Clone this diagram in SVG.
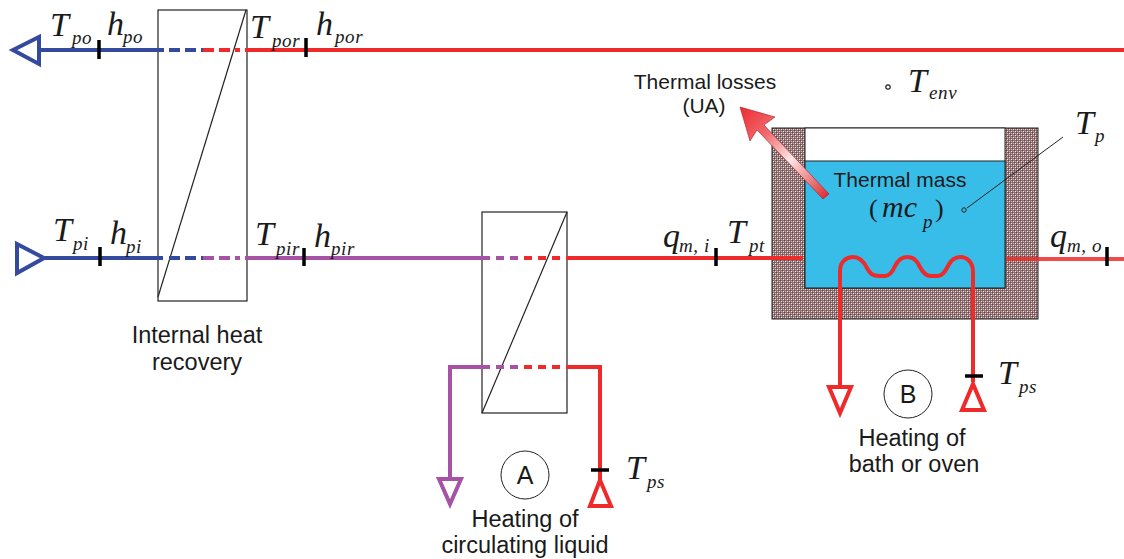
<svg xmlns="http://www.w3.org/2000/svg" width="1124" height="559" viewBox="0 0 1124 559">
<style>
.v{font-family:"Liberation Serif",serif;font-style:italic;fill:#1a1a1a}
.m{font-size:34px}.s{font-size:19px;letter-spacing:.6px}
.l{font-family:"Liberation Sans",Arial,sans-serif;font-size:23.5px;fill:#1a1a1a;text-anchor:middle}
.l2{font-size:21px}
.hx{fill:none;stroke:#222;stroke-width:1.2}
.ln{fill:none;stroke-width:4}
.b{stroke:#344a9e}.r{stroke:#ee2a2a}.p{stroke:#a653a6}
.d{stroke-dasharray:11 5}
.e{stroke-dasharray:8 6}
.t{stroke:#000;stroke-width:3.5;fill:none}
.tri{fill:#fff;stroke-width:4;stroke-linejoin:miter}
</style>
<defs>
<pattern id="hatch" width="4" height="4" patternUnits="userSpaceOnUse">
<rect width="4" height="4" fill="#8f7070"/>
<rect x="0" y="0" width="1" height="1" fill="#5f3f3f"/>
<rect x="2" y="2" width="1" height="1" fill="#5f3f3f"/>
<rect x="1" y="1" width="1" height="1" fill="#f2e8e8"/>
<rect x="3" y="3" width="1" height="1" fill="#f2e8e8"/>
<rect x="3" y="1" width="1" height="1" fill="#c8b4b4"/>
<rect x="1" y="3" width="1" height="1" fill="#c8b4b4"/>
</pattern>
<linearGradient id="loss" gradientUnits="userSpaceOnUse" x1="740" y1="107" x2="829" y2="195">
<stop offset="0" stop-color="#ee2a30"/>
<stop offset=".3" stop-color="#f06a6e"/>
<stop offset=".58" stop-color="#fbe8e8"/>
<stop offset="1" stop-color="#e02a30"/>
</linearGradient>
</defs>
<g id="bath">
<rect x="772" y="128" width="266" height="191" fill="url(#hatch)" stroke="#222" stroke-width="1"/>
<rect x="805" y="128" width="200" height="160" fill="#fff" stroke="#222" stroke-width="1"/>
<rect x="805" y="161" width="200" height="127" fill="#38bde8" stroke="#222" stroke-width="1"/>
</g>
<g id="hx1"><rect class="hx" x="158" y="10" width="89" height="291"/><path class="hx" d="M158 297L246 10"/></g>
<g id="hx2"><rect class="hx" x="482" y="212" width="85" height="201"/><path class="hx" d="M482 413L567 212"/></g>
<g id="connectors">
<path class="ln b" d="M39 50H164"/><path class="ln b d" d="M169 50H203"/>
<path class="ln r d" d="M203 50H240"/><path class="ln r" d="M245 50H1124"/>
<path class="ln b" d="M45 258H163"/><path class="ln b d" d="M169 258H203"/>
<path class="ln p d" d="M203 258H240"/><path class="ln p" d="M245 258H490"/>
<path class="ln p e" d="M496 258H520"/><path class="ln r e" d="M524 258H560"/><path class="ln r" d="M566 258H803"/>
<path class="ln r" style="stroke-opacity:.85" d="M1006 259H1124"/>
<path class="ln p" d="M450 480V367H490"/><path class="ln p e" d="M496 367H518"/>
<path class="ln r e" d="M524 367H560"/><path class="ln r" d="M566 367H600V480"/>
<path class="ln r" d="M840 388V271C840 261 847 257 853 257C860 257 864 262 867 268C870 274 873 276 879 276H885C889 276 892 273 895 266C898 260 901 257 907 257C914 257 917 261 920 267C923 273 926 276 931 276H938C942 276 945 272 948 266C951 260 954 257 960 257C968 257 973 263 973 272V382"/>
<polygon class="tri b" points="13,50 39,37 39,64"/>
<polygon class="tri b" points="17,244 17,273 44,258"/>
<polygon class="tri p" points="439,479 461,479 450,504"/>
<polygon class="tri r" points="590,506 611,506 600,480"/>
<polygon class="tri r" points="829,387 851,387 840,413"/>
<polygon class="tri r" points="962,410 984,410 973,384"/>
<path class="t" d="M99 40V59M306 38V57M100 247V266M304 248V266M716 248V266M1107 247V266M591 470H609M965 376H983"/>
</g>
<g id="losses"><polygon points="740,107 775,117 764,125 829,194 823,199 757,130 750,141" fill="url(#loss)" stroke="#a02028" stroke-width=".6"/></g>
<g id="points">
<circle cx="888" cy="87" r="2.2" fill="#fff" stroke="#222" stroke-width="1.2"/>
<path d="M1063 137L967 208" stroke="#222" stroke-width="1" fill="none"/>
<circle cx="964" cy="210" r="2.2" fill="#38bde8" stroke="#222" stroke-width="1"/>
<circle cx="525" cy="475" r="24" fill="#fff" stroke="#222" stroke-width="1"/>
<circle cx="908" cy="394" r="24" fill="#fff" stroke="#222" stroke-width="1"/>
</g>
<g id="labels">
<text class="v m" x="50" y="36">T</text><text class="v s" x="72" y="44">po</text>
<text class="v m" x="107" y="35">h</text><text class="v s" x="123" y="43">po</text>
<text class="v m" x="250" y="38">T</text><text class="v s" x="272" y="47">por</text>
<text class="v m" x="316" y="35">h</text><text class="v s" x="335" y="43">por</text>
<text class="v m" x="53" y="241">T</text><text class="v s" x="73" y="250">pi</text>
<text class="v m" x="110" y="244">h</text><text class="v s" x="126" y="253">pi</text>
<text class="v m" x="255" y="245">T</text><text class="v s" x="276" y="255">pir</text>
<text class="v m" x="314" y="247">h</text><text class="v s" x="331" y="255">pir</text>
<text class="v m" x="663" y="247">q</text><text class="v s" x="679" y="252">m, i</text>
<text class="v m" x="727" y="243">T</text><text class="v s" x="749" y="252">pt</text>
<text class="v m" x="1050" y="247">q</text><text class="v s" x="1067" y="252">m, o</text>
<text class="v m" x="908" y="92">T</text><text class="v s" x="929" y="99">env</text>
<text class="v m" x="1075" y="134">T</text><text class="v s" x="1095" y="142">p</text>
<text class="v" x="869" y="217" style="font-style:normal;font-size:26px">(</text>
<text class="v" x="882" y="217" style="font-size:30px">mc</text><text class="v s" x="923" y="228">p</text>
<text class="v" x="935" y="217" style="font-style:normal;font-size:26px">)</text>
<text class="v m" x="626" y="479">T</text><text class="v s" x="647" y="488">ps</text>
<text class="v m" x="998" y="384">T</text><text class="v s" x="1019" y="393">ps</text>
<text class="l l2" x="705" y="89">Thermal losses</text><text class="l l2" x="704" y="113">(UA)</text>
<text class="l l2" x="900" y="187">Thermal mass</text>
<text class="l" x="197" y="343">Internal heat</text><text class="l" x="197" y="370">recovery</text>
<text class="l" x="525" y="527">Heating of</text><text class="l" x="525" y="553">circulating liquid</text>
<text class="l" x="912" y="446">Heating of</text><text class="l" x="914" y="472">bath or oven</text>
<text class="l" x="525" y="484" style="font-size:25px">A</text>
<text class="l" x="908" y="403" style="font-size:25px">B</text>
</g>
</svg>
